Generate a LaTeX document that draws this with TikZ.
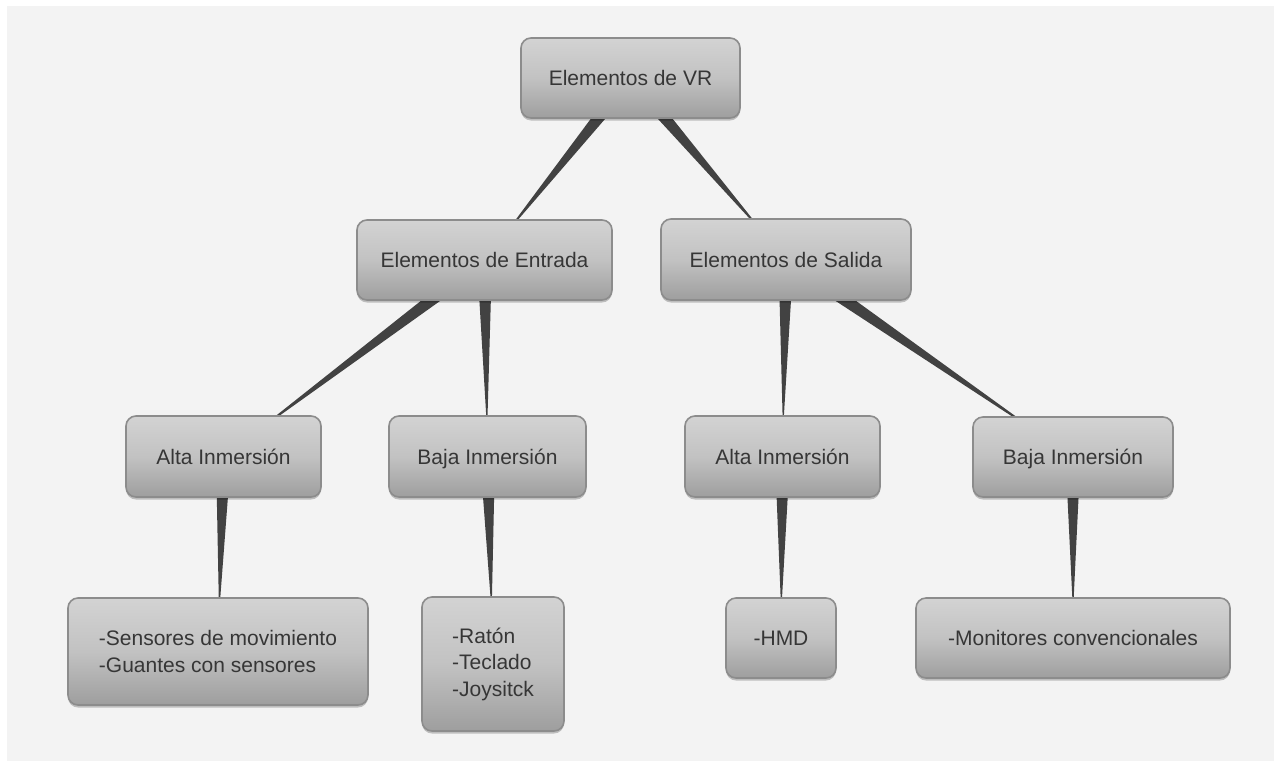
\documentclass[tikz,border=0pt]{standalone}
\usepackage{fontspec}
\setmainfont{Liberation Sans}
\usetikzlibrary{calc,shadows}
\pgfdeclarelayer{bglayer}
\pgfdeclarelayer{wedgelayer}
\pgfsetlayers{bglayer,wedgelayer,main}
\definecolor{bgc}{HTML}{F3F3F3}
\definecolor{boxtop}{HTML}{D3D3D3}
\definecolor{boxmid}{HTML}{C2C2C2}
\definecolor{boxbot}{HTML}{9E9E9E}
\definecolor{boxline}{HTML}{8C8C8C}
\definecolor{wedgec}{HTML}{424242}
\definecolor{txt}{HTML}{363636}
\tikzset{
  vrbox/.style={draw=boxline, line width=1.6pt, rounded corners=10pt,
    top color=boxtop, bottom color=boxbot, middle color=boxmid,
    inner sep=0pt, text=txt, font=\fontsize{21}{26.5}\selectfont,
    drop shadow={shadow xshift=0pt, shadow yshift=-2.5pt, opacity=0.22, fill=black}},
  oneline/.style={text height=16.5pt, text depth=1pt},
  wedgefill/.style={fill=wedgec}
}
\begin{document}
\begin{tikzpicture}[x=1pt,y=-1pt]
\useasboundingbox (0,0) rectangle (1274,761);
\begin{pgfonlayer}{bglayer}
\fill[white] (0,0) rectangle (1274,761);
\fill[bgc] (7,6) rectangle (1274,761);
\end{pgfonlayer}
% nodes
\node[vrbox, oneline, minimum width=219pt, minimum height=80pt] (vr) at (630.5,78) {Elementos de VR};
\node[vrbox, oneline, minimum width=255pt, minimum height=80pt] (ent) at (484.5,260) {Elementos de Entrada};
\node[vrbox, oneline, minimum width=250pt, minimum height=81pt] (sal) at (786,259.5) {Elementos de Salida};
\node[vrbox, oneline, minimum width=195pt, minimum height=81pt] (altaL) at (223.5,456.5) {Alta Inmersión};
\node[vrbox, oneline, minimum width=197pt, minimum height=81pt] (bajaL) at (487.5,456.5) {Baja Inmersión};
\node[vrbox, oneline, minimum width=195pt, minimum height=81pt] (altaR) at (782.5,456.5) {Alta Inmersión};
\node[vrbox, oneline, minimum width=200pt, minimum height=80pt] (bajaR) at (1073,457) {Baja Inmersión};
\node[vrbox, minimum width=300pt, minimum height=107pt, align=left] (sens) at (218,651.5) {-Sensores de movimiento\\-Guantes con sensores};
\node[vrbox, minimum width=142pt, minimum height=134pt, align=left] (raton) at (493,664) {-Ratón\\-Teclado\\-Joysitck};
\node[vrbox, oneline, minimum width=110pt, minimum height=80pt] (hmd) at (781,638) {-HMD};
\node[vrbox, oneline, minimum width=314pt, minimum height=80pt] (mon) at (1073,638) {-Monitores convencionales};
% wedge connectors, behind the boxes
\begin{pgfonlayer}{wedgelayer}
\foreach \a/\b/\c in {vr/ent/26, vr/sal/26, ent/altaL/26, ent/bajaL/26, sal/altaR/26, sal/bajaR/26, altaL/sens/38, bajaL/raton/52, altaR/hmd/26, bajaR/mon/26}{
  \coordinate (tip) at ($(\b.center)!\c pt!(\a.center)$);
  \fill[wedgefill] ($(\a.center)!7.5pt!90:(tip)$) -- ($(\a.center)!7.5pt!-90:(tip)$) -- (tip) -- cycle;
}
\end{pgfonlayer}
\end{tikzpicture}
\end{document}
